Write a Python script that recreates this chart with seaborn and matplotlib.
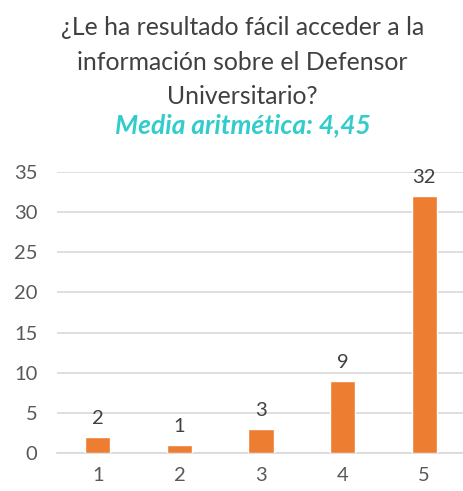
import matplotlib
matplotlib.use("Agg")
import matplotlib.pyplot as plt
import seaborn as sns
import pandas as pd

# data
categories = ["1", "2", "3", "4", "5"]
counts = [2, 1, 3, 9, 32]
title = "¿Le ha resultado fácil acceder a la\ninformación sobre el Defensor\nUniversitario?"
subtitle = "Media aritmética: 4,45"

df = pd.DataFrame({"respuesta": categories, "n": counts})

sns.set_style("white")
plt.rcParams["font.family"] = ["Lato", "DejaVu Sans"]

fig = plt.figure(figsize=(4.64, 4.91), dpi=100)
ax = fig.add_axes([57 / 464, 1 - 453 / 491, 408 / 464, 281 / 491])

sns.barplot(data=df, x="respuesta", y="n", color="#ED7D31", width=0.31,
            saturation=1, ax=ax, zorder=3)

for i, v in enumerate(counts):
    ax.text(i, v + 1.2, str(v), ha="center", va="bottom", fontsize=14.5, color="#404040")

ax.set_ylim(0, 35)
ax.set_yticks(range(0, 36, 5))
ax.yaxis.grid(True, color="#D9D9D9", linewidth=1.2, zorder=0)
ax.set_xlabel("")
ax.set_ylabel("")
for s in ["top", "right", "left"]:
    ax.spines[s].set_visible(False)
ax.spines["bottom"].set_color("#D9D9D9")
ax.spines["bottom"].set_linewidth(1.2)
ax.tick_params(axis="both", length=0, labelsize=14.5, labelcolor="#595959", pad=10)
ax.tick_params(axis="y", pad=14)

fig.text(0.522, 1 - 62 / 491, title, ha="center", va="center", fontsize=17.8,
         color="#404040", linespacing=1.58)
fig.text(0.524, 1 - 125 / 491, subtitle, ha="center", va="center", fontsize=19,
         color="#33CCCC", fontweight="bold", fontstyle="italic")

fig.savefig("out.png", dpi=100)
